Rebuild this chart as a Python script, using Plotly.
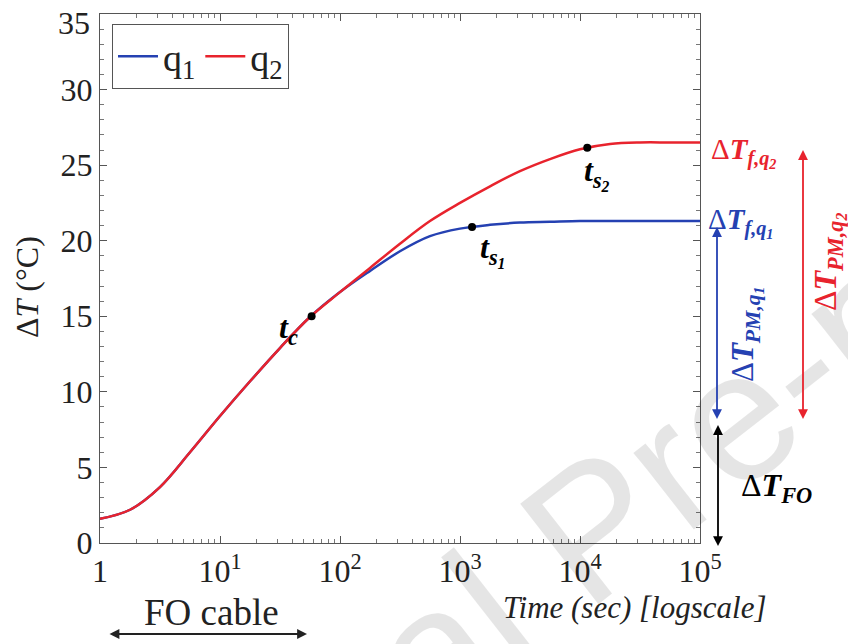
import plotly.graph_objects as go

# ---------------- data ----------------
time_s = [1, 1.78, 3.16, 5.62, 10, 17.8, 31.6, 56.2, 100, 178, 316, 562, 1000,
          1780, 3160, 5620, 10000, 17800, 31600, 56200, 100000]
dT_q2 = [1.6, 2.2, 3.7, 6.0, 8.4, 10.7, 12.9, 14.95, 16.6, 18.2, 19.8, 21.3, 22.5,
         23.6, 24.6, 25.4, 26.05, 26.4, 26.5, 26.5, 26.5]
dT_q1 = [1.6, 2.2, 3.7, 6.0, 8.4, 10.7, 12.9, 14.95, 16.6, 18.0, 19.3, 20.3, 20.8,
         21.05, 21.2, 21.25, 21.3, 21.3, 21.3, 21.3, 21.3]

# characteristic points (t_c, t_s1, t_s2)
pt_time = [58, 1260, 11500]
pt_dT = [15.0, 20.9, 26.15]

x_tickvals = [1, 10, 100, 1000, 10000, 100000]
x_ticktext = ["1", "10<sup>1</sup>", "10<sup>2</sup>", "10<sup>3</sup>", "10<sup>4</sup>", "10<sup>5</sup>"]
y_tickvals = [0, 5, 10, 15, 20, 25, 30, 35]
y_ticktext = ["0", "5", "10", "15", "20", "25", "30", "35"]

dT_FO = 7.8          # top of the FO band
dT_PM_low = 8.1      # bottom of the PM arrows

BLUE = "#2541b2"
RED = "#e8232d"
FONT = "Liberation Serif"

# ---------------- figure ----------------
# page has an 8px body margin; plot area wanted at page px x 100..700, y 14..543
OFF = 8
W, H = 856 - OFF, 644 - OFF
PL, PR, PT, PB = 100, 700, 14, 543
L, T = PL - OFF, PT - OFF
R = W - (PR - OFF)
B = H - (PB - OFF)

def px(xp):
    return (xp - PL) / (PR - PL)

def py(yp):
    return (PB - yp) / (PB - PT)

fig = go.Figure()
fig.add_trace(go.Scatter(x=time_s, y=dT_q1, mode="lines", name="q<sub>1</sub>",
                         line=dict(color=BLUE, width=2.5, shape="spline", smoothing=1)))
fig.add_trace(go.Scatter(x=time_s, y=dT_q2, mode="lines", name="q<sub>2</sub>",
                         line=dict(color=RED, width=2.5, shape="spline", smoothing=1)))
fig.add_trace(go.Scatter(x=pt_time, y=pt_dT, mode="markers", showlegend=False,
                         marker=dict(color="black", size=8)))

ann = []
bi = lambda s: "<b><i>%s</i></b>" % s

def label(xp, yp, text, size, color, angle=0, xanchor="center"):
    ann.append(dict(x=px(xp), y=py(yp), xref="paper", yref="paper", text=text,
                    showarrow=False, xanchor=xanchor, yanchor="middle", textangle=angle,
                    font=dict(family=FONT, size=size, color=color)))

# watermark
ann.append(dict(x=px(592), y=py(528), xref="paper", yref="paper", text="Journal Pre-proof",
                showarrow=False, xanchor="center", yanchor="middle", textangle=-38,
                font=dict(family="Liberation Sans", size=185, color="rgba(0,0,0,0.10)")))

# top tick label (sits slightly below its tick in the reference)
label(92, 23, y_ticktext[-1], 32, "#222", xanchor="right")

# point labels
label(288, 330, bi("t") + "<sub>" + bi("c") + "</sub>", 32, "black")
label(492, 250, bi("t") + "<sub>" + bi("s<sub>1</sub>") + "</sub>", 32, "black")
label(597, 173, bi("t") + "<sub>" + bi("s<sub>2</sub>") + "</sub>", 32, "black")

# final value labels
label(709, 152, "Δ" + bi("T") + "<sub>" + bi("f,q<sub>2</sub>") + "</sub>", 29, RED, xanchor="left")
label(706, 222, "Δ" + bi("T") + "<sub>" + bi("f,q<sub>1</sub>") + "</sub>", 29, BLUE, xanchor="left")

# arrows
def varrow(xp, y_top, y_bot, color):
    ann.append(dict(x=px(xp), y=y_top, xref="paper", yref="y", ax=0, ay=y_bot,
                    axref="pixel", ayref="y", text="", showarrow=True,
                    arrowhead=2, arrowside="end+start", arrowsize=1.1, arrowwidth=1.8,
                    arrowcolor=color, standoff=0, startstandoff=0))

varrow(717, dT_q1[-1] - 0.4, dT_PM_low, BLUE)
varrow(803, dT_q2[-1] - 0.5, dT_PM_low, RED)
varrow(718, dT_FO, -0.3, "black")

label(746, 335, "Δ" + bi("T") + "<sub>" + bi("PM,q<sub>1</sub>") + "</sub>", 31, BLUE, angle=-90)
label(828, 262, "Δ" + bi("T") + "<sub>" + bi("PM,q<sub>2</sub>") + "</sub>", 32, RED, angle=-90)
label(776, 487, "Δ" + bi("T") + "<sub>" + bi("FO") + "</sub>", 32, "black")

# axis titles
label(634, 607, "<i>Time (sec) [logscale]</i>", 31, "#222")
label(27, 287, "Δ<i>T</i> (°C)", 32, "#222", angle=-90)

# FO cable
label(211, 612, "FO cable", 37, "#222")
ann.append(dict(x=px(307), y=py(634), xref="paper", yref="paper", ax=-(307 - 108), ay=0,
                axref="pixel", ayref="pixel", text="", showarrow=True,
                arrowhead=2, arrowside="end+start", arrowsize=1.1, arrowwidth=1.8,
                arrowcolor="#222", standoff=0, startstandoff=0))

fig.update_layout(
    width=W, height=H,
    margin=dict(l=L, r=R, t=T, b=B, autoexpand=False),
    paper_bgcolor="white", plot_bgcolor="white",
    showlegend=True,
    legend=dict(x=px(112), y=py(24), xanchor="left", yanchor="top", orientation="h",
                bordercolor="#555", borderwidth=1, bgcolor="white",
                font=dict(family=FONT, size=38, color="#222"),
                itemwidth=40, tracegroupgap=0),
    annotations=ann,
    font=dict(family=FONT, color="#222"),
)
common = dict(ticks="inside", ticklen=7, tickcolor="#555", showline=True, linecolor="#555",
              linewidth=1, mirror="ticks", showgrid=False, zeroline=False, automargin=False,
              ticklabeloverflow="allow", tickfont=dict(family=FONT, size=32, color="#222"))
fig.update_xaxes(type="log", range=[0, 5], tickvals=x_tickvals, ticktext=x_ticktext,
                 minor=dict(ticks="inside", ticklen=4, tickcolor="#777", dtick="D1", showgrid=False),
                 **common)
fig.update_yaxes(range=[0, 35], tickvals=y_tickvals, ticktext=y_ticktext[:-1] + [""],
                 minor=dict(ticks="inside", ticklen=4, tickcolor="#777", dtick=1, showgrid=False),
                 **common)

fig.write_html("out.html")
